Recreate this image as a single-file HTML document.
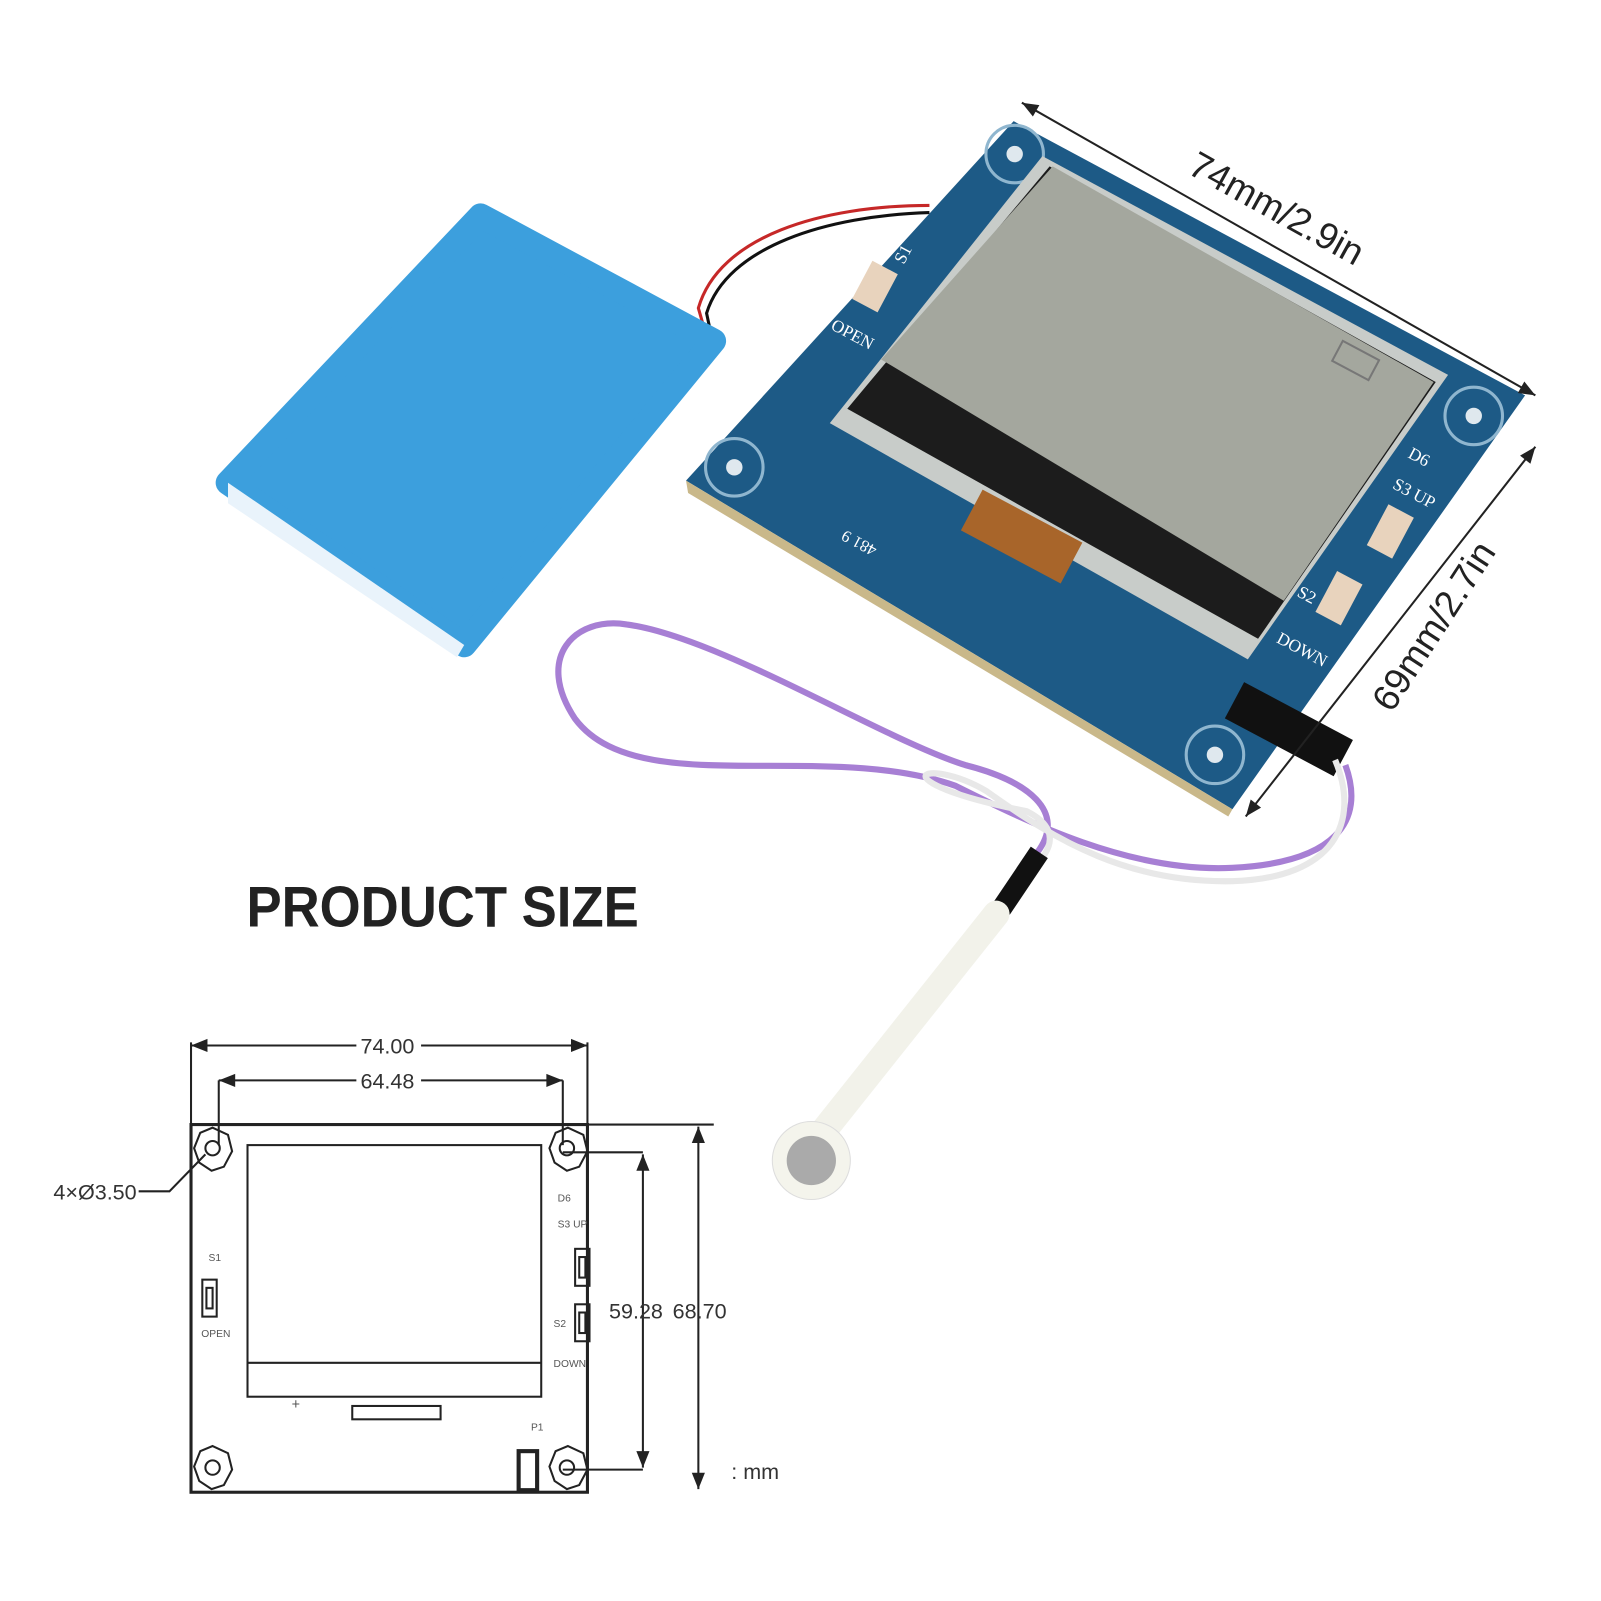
<!DOCTYPE html>
<html><head><style>html,body{margin:0;padding:0;background:#fff}svg{display:block}</style></head><body>
<svg width="1601" height="1601" viewBox="0 0 1601 1601" xmlns="http://www.w3.org/2000/svg" font-family="Liberation Sans, sans-serif">
<rect width="1601" height="1601" fill="#fff"/>
<defs><marker id="ar" viewBox="0 0 10 10" refX="10" refY="5" markerWidth="10" markerHeight="8" orient="auto-start-reverse"><path d="M0,1 L10,5 L0,9 z" fill="#222"/></marker></defs>
<g transform="scale(1.027)">
<!-- battery wires -->
<path d="M905,200 C800,200 700,230 680,300 L690,335" stroke="#c62828" stroke-width="3" fill="none"/>
<path d="M905,207 C805,210 708,240 688,305 L695,338" stroke="#111" stroke-width="3" fill="none"/>

<!-- battery -->
<polygon points="468,210 695,332 452,628 222,470" fill="#3c9fdd" stroke="#3c9fdd" stroke-width="24" stroke-linejoin="round"/>
<polygon points="222,470 452,628 445,640 222,490" fill="#e9f3fb"/>

<!-- PCB -->
<polygon points="987,118 1485,385 1200,788 668,468" fill="#1d5a86"/>
<polygon points="668,468 1200,788 1196,795 670,480" fill="#c9b88a"/>
<g fill="none" stroke="#8fb6cf" stroke-width="3">
<circle cx="988" cy="150" r="28"/><circle cx="1435" cy="405" r="28"/><circle cx="715" cy="455" r="28"/><circle cx="1183" cy="735" r="28"/></g>
<g fill="#dfe8ee"><circle cx="988" cy="150" r="8"/><circle cx="1435" cy="405" r="8"/><circle cx="715" cy="455" r="8"/><circle cx="1183" cy="735" r="8"/></g>
<!-- LCD -->
<polygon points="1015,152 1410,365 1215,642 808,412" fill="#c8ccc9"/>
<polygon points="1022,162 1398,372 1225,622 825,398" fill="#1c1c1c"/>
<polygon points="1025,162 1396,372 1250,585 858,350" fill="#a4a79e"/>
<rect x="1300" y="340" width="40" height="22" fill="none" stroke="#777" stroke-width="2" transform="rotate(28 1320 351)"/>
<rect x="940" y="500" width="110" height="45" fill="#a8652a" transform="rotate(28 995 522)"/>
<!-- buttons -->
<rect x="838" y="258" width="28" height="42" fill="#e8d3bd" transform="rotate(28 852 279)"/>
<rect x="1340" y="495" width="28" height="45" fill="#e8d3bd" transform="rotate(28 1354 517)"/>
<rect x="1290" y="560" width="28" height="45" fill="#e8d3bd" transform="rotate(28 1304 582)"/>
<g fill="#fff" font-size="17" font-family="Liberation Serif, serif">
<text x="880" y="258" transform="rotate(-62 880 258)">S1</text>
<text x="808" y="320" transform="rotate(28 808 320)">OPEN</text>
<text x="1370" y="445" transform="rotate(28 1370 445)">D6</text>
<text x="1355" y="475" transform="rotate(28 1355 475)">S3 UP</text>
<text x="1262" y="580" transform="rotate(28 1262 580)">S2</text>
<text x="1242" y="625" transform="rotate(28 1242 625)">DOWN</text>
<text x="820" y="512" transform="rotate(208 840 518)" font-size="16">481 9</text>
</g>
<!-- connector -->
<rect x="1195" y="690" width="120" height="40" fill="#111" transform="rotate(28 1255 710)"/>

<!-- wires -->
<path d="M1310,745 C1330,800 1300,840 1200,845 C1100,850 1000,800 930,765 C800,720 620,780 560,700 C520,640 560,600 610,608 C700,620 860,720 940,745 C1000,760 1040,790 1010,830" stroke="#a77fd4" stroke-width="6" fill="none"/>
<path d="M1300,740 C1325,800 1300,855 1200,858 C1100,860 1030,820 960,770 C900,735 850,760 1000,790 C1020,800 1030,815 1015,835" stroke="#e8e8e8" stroke-width="6" fill="none"/>
<!-- sensor -->
<path d="M1012,830 L975,885" stroke="#111" stroke-width="20"/>
<path d="M970,890 L795,1110" stroke="#f2f2ea" stroke-width="26" stroke-linecap="round"/>
<circle cx="790" cy="1130" r="38" fill="#f4f4ec" stroke="#ddd"/>
<circle cx="790" cy="1130" r="24" fill="#aaa"/>

<!-- dimension lines photo -->
<line x1="995" y1="100" x2="1495" y2="385" stroke="#222" stroke-width="2" marker-start="url(#ar)" marker-end="url(#ar)"/>
<line x1="1495" y1="435" x2="1213" y2="795" stroke="#222" stroke-width="2" marker-start="url(#ar)" marker-end="url(#ar)"/>
<text x="1155" y="168" font-size="36" fill="#222" transform="rotate(29 1155 168)">74mm/2.9in</text>
<text x="1355" y="695" font-size="36" fill="#222" transform="rotate(-57 1355 695)">69mm/2.7in</text>

<text x="240" y="902" font-size="56" font-weight="bold" fill="#222" textLength="382" lengthAdjust="spacingAndGlyphs">PRODUCT SIZE</text>

<!-- drawing -->
<g stroke="#222" fill="none" stroke-width="2">
<rect x="186" y="1095" width="386" height="358" stroke-width="3"/>
<line x1="186" y1="1015" x2="186" y2="1095"/><line x1="572" y1="1015" x2="572" y2="1095"/>
<line x1="186" y1="1018" x2="347" y2="1018" marker-start="url(#ar)"/><line x1="410" y1="1018" x2="572" y2="1018" marker-end="url(#ar)"/>
<line x1="213" y1="1052" x2="213" y2="1115"/><line x1="548" y1="1052" x2="548" y2="1115"/>
<line x1="213" y1="1052" x2="347" y2="1052" marker-start="url(#ar)"/><line x1="410" y1="1052" x2="548" y2="1052" marker-end="url(#ar)"/>
<line x1="572" y1="1095" x2="695" y2="1095"/>
<line x1="680" y1="1097" x2="680" y2="1450" marker-start="url(#ar)" marker-end="url(#ar)"/>
<line x1="548" y1="1122" x2="626" y2="1122"/><line x1="548" y1="1431" x2="626" y2="1431"/>
<line x1="626" y1="1124" x2="626" y2="1429" marker-start="url(#ar)" marker-end="url(#ar)"/>
<polygon points="207,1098 222,1105 226,1121 218,1136 206,1140 194,1132 189,1118 195,1103"/><circle cx="207" cy="1118" r="7"/>
<polygon points="553,1098 568,1105 572,1121 564,1136 552,1140 540,1132 535,1118 541,1103"/><circle cx="552" cy="1118" r="7"/>
<polygon points="207,1408 222,1415 226,1431 218,1446 206,1450 194,1442 189,1428 195,1413"/><circle cx="207" cy="1429" r="7"/>
<polygon points="553,1408 568,1415 572,1431 564,1446 552,1450 540,1442 535,1428 541,1413"/><circle cx="552" cy="1429" r="7"/>
<polyline points="135,1160 165,1160 200,1124"/>
<rect x="241" y="1115" width="286" height="245"/>
<line x1="241" y1="1327" x2="527" y2="1327"/>
<rect x="343" y="1369" width="86" height="13"/>
<rect x="197" y="1246" width="14" height="36"/><rect x="201" y="1254" width="6" height="20"/>
<rect x="560" y="1216" width="14" height="36"/><rect x="564" y="1224" width="6" height="20"/>
<rect x="560" y="1270" width="14" height="36"/><rect x="564" y="1278" width="6" height="20"/>
<rect x="505" y="1413" width="18" height="38" stroke-width="4"/>
</g>
<g fill="#333" font-size="21">
<text x="351" y="1026">74.00</text><text x="351" y="1060">64.48</text>
<text x="52" y="1168">4×Ø3.50</text>
<text x="593" y="1284">59.28</text><text x="655" y="1284">68.70</text>
<text x="712" y="1440">: mm</text>
</g>
<g fill="#555" font-size="10">
<text x="203" y="1228">S1</text><text x="196" y="1302">OPEN</text>
<text x="543" y="1170">D6</text><text x="543" y="1195">S3 UP</text>
<text x="539" y="1292">S2</text><text x="539" y="1331">DOWN</text>
<text x="517" y="1393">P1</text><text x="284" y="1372" font-size="14">+</text>
</g>
</g>
</svg>
</body></html>
